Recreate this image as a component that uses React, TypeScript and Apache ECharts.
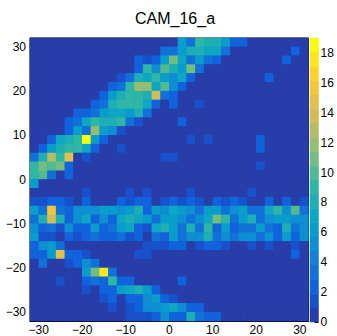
import React, { useEffect, useRef } from 'react';
import * as echarts from 'echarts';

const TITLE = 'CAM_16_a';

// bin centres (bins of width 2 from -32 to 32)
const X_BINS = [-31, -29, -27, -25, -23, -21, -19, -17, -15, -13, -11, -9, -7, -5, -3, -1, 1, 3, 5, 7, 9, 11, 13, 15, 17, 19, 21, 23, 25, 27, 29, 31];
const Y_BINS = [-31, -29, -27, -25, -23, -21, -19, -17, -15, -13, -11, -9, -7, -5, -3, -1, 1, 3, 5, 7, 9, 11, 13, 15, 17, 19, 21, 23, 25, 27, 29, 31];

const X_TICKS = [-30, -20, -10, 0, 10, 20, 30];
const Y_TICKS = [-30, -20, -10, 0, 10, 20, 30];
const Z_TICKS = [0, 2, 4, 6, 8, 10, 12, 14, 16, 18];
const Z_MAX = 19;
const N_CONTOURS = 20;

// counts, rows listed from top (y = 31) to bottom (y = -31)
const COUNTS: number[][] = [
  [0, 0, 0, 0, 0, 0, 0, 0, 0, 0, 0, 0, 0, 0, 0, 0, 0, 6, 3, 9, 8, 8, 6, 2, 2, 0, 0, 0, 0, 0, 0, 0],
  [0, 0, 0, 0, 0, 0, 0, 0, 0, 0, 0, 0, 0, 0, 0, 3, 3, 6, 8, 8, 7, 7, 3, 0, 0, 0, 0, 0, 0, 0, 2, 0],
  [0, 0, 0, 0, 0, 0, 0, 0, 0, 0, 0, 0, 2, 1, 2, 6, 11, 7, 3, 6, 3, 2, 0, 0, 0, 0, 0, 0, 0, 2, 0, 0],
  [0, 0, 0, 0, 0, 0, 0, 0, 0, 0, 0, 0, 2, 9, 5, 10, 8, 6, 11, 3, 0, 0, 0, 0, 0, 0, 0, 0, 0, 0, 0, 0],
  [0, 0, 0, 0, 0, 0, 0, 0, 0, 0, 1, 3, 8, 7, 9, 6, 5, 7, 2, 0, 0, 0, 0, 0, 0, 0, 0, 2, 0, 0, 0, 0],
  [0, 0, 0, 0, 0, 0, 0, 0, 0, 2, 3, 9, 12, 12, 7, 10, 5, 2, 0, 0, 0, 0, 0, 0, 0, 0, 0, 0, 0, 0, 0, 0],
  [0, 0, 0, 0, 0, 0, 0, 0, 2, 6, 8, 9, 9, 8, 14, 3, 2, 0, 0, 0, 0, 0, 0, 0, 0, 0, 0, 0, 0, 0, 0, 0],
  [0, 0, 0, 0, 0, 0, 0, 2, 3, 8, 9, 9, 9, 7, 2, 0, 2, 0, 0, 1, 0, 0, 0, 0, 0, 0, 0, 0, 0, 0, 0, 0],
  [0, 0, 0, 0, 0, 2, 2, 3, 6, 7, 7, 6, 8, 3, 0, 0, 0, 0, 0, 0, 0, 0, 0, 0, 0, 0, 0, 0, 0, 0, 0, 0],
  [0, 0, 0, 0, 2, 3, 7, 9, 8, 8, 9, 3, 1, 0, 0, 0, 0, 2, 0, 0, 0, 0, 0, 0, 0, 0, 0, 0, 0, 0, 0, 0],
  [0, 0, 0, 0, 2, 6, 3, 12, 6, 5, 1, 0, 0, 0, 0, 0, 0, 0, 0, 0, 0, 0, 0, 0, 0, 0, 0, 0, 0, 0, 0, 0],
  [0, 0, 2, 7, 8, 9, 19, 6, 2, 0, 0, 0, 0, 0, 0, 0, 0, 0, 1, 0, 1, 0, 0, 0, 0, 0, 2, 0, 0, 0, 0, 0],
  [0, 2, 6, 8, 9, 9, 7, 2, 0, 0, 1, 0, 0, 0, 0, 0, 0, 0, 0, 0, 0, 0, 0, 0, 0, 0, 2, 0, 0, 0, 0, 0],
  [3, 8, 13, 9, 15, 0, 1, 0, 0, 0, 0, 0, 0, 0, 0, 1, 1, 0, 0, 0, 0, 0, 0, 0, 0, 0, 0, 0, 0, 0, 0, 0],
  [9, 11, 10, 11, 2, 0, 0, 0, 0, 0, 0, 0, 0, 0, 0, 0, 0, 0, 0, 0, 0, 0, 0, 0, 0, 0, 1, 0, 0, 0, 0, 0],
  [9, 10, 3, 0, 2, 0, 0, 0, 0, 0, 0, 0, 0, 0, 0, 0, 0, 0, 0, 0, 0, 0, 0, 0, 0, 0, 0, 0, 0, 0, 0, 0],
  [6, 0, 0, 0, 0, 0, 0, 0, 0, 0, 0, 0, 0, 0, 0, 0, 0, 0, 0, 0, 0, 0, 0, 0, 0, 0, 0, 0, 0, 0, 0, 0],
  [0, 0, 0, 0, 0, 0, 1, 0, 0, 0, 0, 1, 0, 1, 0, 0, 0, 0, 1, 0, 0, 0, 0, 0, 0, 1, 0, 0, 0, 0, 0, 0],
  [1, 1, 2, 2, 1, 0, 2, 0, 0, 0, 2, 1, 2, 2, 0, 1, 2, 1, 2, 1, 0, 2, 1, 2, 1, 0, 0, 2, 0, 2, 0, 1],
  [6, 3, 16, 3, 2, 5, 5, 5, 6, 6, 5, 6, 8, 2, 6, 5, 7, 6, 5, 3, 6, 6, 3, 5, 6, 3, 3, 7, 9, 5, 10, 3],
  [3, 8, 14, 8, 2, 5, 7, 2, 5, 2, 7, 8, 7, 6, 3, 6, 6, 5, 3, 5, 7, 11, 9, 3, 6, 8, 3, 5, 6, 6, 5, 5],
  [5, 2, 3, 1, 5, 2, 2, 6, 2, 3, 6, 7, 2, 1, 7, 8, 6, 3, 8, 3, 9, 2, 6, 2, 3, 3, 6, 3, 2, 8, 3, 5],
  [6, 1, 1, 0, 2, 1, 2, 3, 2, 2, 3, 1, 2, 0, 3, 2, 6, 3, 5, 5, 8, 3, 5, 3, 5, 5, 3, 5, 2, 6, 2, 5],
  [2, 5, 6, 3, 0, 0, 0, 0, 0, 0, 0, 0, 0, 1, 1, 1, 2, 2, 0, 1, 2, 2, 1, 0, 0, 1, 0, 1, 0, 0, 1, 0],
  [2, 2, 6, 15, 2, 2, 1, 0, 0, 0, 0, 0, 1, 1, 0, 0, 0, 0, 0, 0, 0, 0, 0, 0, 0, 0, 0, 0, 0, 0, 2, 0],
  [0, 3, 0, 0, 1, 2, 5, 3, 0, 0, 0, 0, 0, 0, 0, 0, 0, 0, 0, 0, 0, 0, 0, 0, 0, 0, 0, 0, 0, 0, 0, 0],
  [0, 0, 0, 0, 0, 0, 6, 11, 18, 3, 0, 0, 0, 0, 0, 0, 0, 0, 0, 0, 0, 0, 0, 0, 0, 0, 0, 0, 0, 0, 0, 0],
  [0, 0, 0, 1, 0, 0, 2, 3, 2, 9, 2, 2, 0, 0, 0, 0, 0, 2, 0, 0, 0, 0, 0, 0, 0, 0, 0, 0, 0, 0, 0, 0],
  [0, 0, 0, 0, 0, 0, 1, 0, 2, 2, 6, 7, 8, 6, 2, 0, 0, 0, 0, 0, 0, 0, 0, 0, 0, 0, 0, 0, 0, 0, 0, 0],
  [0, 0, 0, 0, 0, 0, 0, 0, 1, 2, 0, 2, 2, 5, 6, 2, 1, 0, 0, 0, 0, 0, 0, 0, 0, 0, 0, 0, 0, 0, 0, 0],
  [0, 0, 0, 0, 0, 0, 0, 0, 0, 1, 0, 1, 2, 5, 5, 6, 7, 5, 2, 2, 0, 0, 0, 0, 0, 0, 0, 0, 0, 0, 0, 0],
  [0, 0, 0, 0, 0, 0, 0, 0, 0, 0, 0, 1, 1, 1, 2, 5, 2, 2, 8, 3, 2, 2, 0, 0, 0, 0, 0, 0, 0, 0, 0, 0],
];

// kBird palette stops (ROOT)
const BIRD_STOPS: number[][] = [
  [0.0, 53, 42, 135],
  [0.125, 15, 92, 221],
  [0.25, 20, 129, 214],
  [0.375, 6, 164, 202],
  [0.5, 46, 183, 164],
  [0.625, 135, 191, 119],
  [0.75, 209, 187, 89],
  [0.875, 254, 200, 50],
  [1.0, 249, 251, 14],
];

function birdColor(f: number): string {
  for (let i = 1; i < BIRD_STOPS.length; i++) {
    const a = BIRD_STOPS[i - 1];
    const b = BIRD_STOPS[i];
    if (f <= b[0] || i === BIRD_STOPS.length - 1) {
      const t = Math.max(0, Math.min(1, (f - a[0]) / (b[0] - a[0])));
      const r = Math.round(a[1] + (b[1] - a[1]) * t);
      const g = Math.round(a[2] + (b[2] - a[2]) * t);
      const bl = Math.round(a[3] + (b[3] - a[3]) * t);
      return `rgb(${r},${g},${bl})`;
    }
  }
  return '#000';
}

function bandColor(k: number): string {
  const idx = Math.floor((k + 0.99) * 255 / N_CONTOURS);
  return birdColor(Math.min(1, idx / 254));
}

const FONT = 'Liberation Sans, Arial, Helvetica, sans-serif';
const minus = (v: number | string) => String(v).replace('-', '\u2212');

export default function App() {
  const ref = useRef<HTMLDivElement>(null);
  useEffect(() => {
    if (!ref.current) return;
    const chart = echarts.init(ref.current, undefined, { renderer: 'svg' });
    const bandW = Z_MAX / N_CONTOURS;
    const pieces = Array.from({ length: N_CONTOURS }, (_, k) =>
      k === N_CONTOURS - 1
        ? { gte: k * bandW, color: bandColor(k) }
        : { gte: k * bandW, lt: (k + 1) * bandW, color: bandColor(k) }
    );
    const data: number[][] = [];
    COUNTS.forEach((row, r) => {
      const yi = Y_BINS.length - 1 - r;
      row.forEach((v, xi) => data.push([xi, yi, v]));
    });
    const bands = Array.from({ length: N_CONTOURS }, (_, k) => String(k));
    const barData = bands.map((_, k) => [0, k, (k + 0.5) * bandW]);

    const labelStyle = { color: '#000', fontFamily: FONT, fontSize: 12 };

    chart.setOption({
      animation: false,
      backgroundColor: '#fff',
      title: {
        text: TITLE,
        left: 130,
        top: 5,
        textStyle: { color: '#000', fontFamily: FONT, fontSize: 16, fontWeight: 'normal' },
      },
      grid: [
        { left: 30, top: 38, width: 278.5, height: 284, show: true, borderColor: '#000', borderWidth: 1, backgroundColor: bandColor(0), containLabel: false },
        { left: 310, top: 38, width: 8.5, height: 284, show: false, containLabel: false },
      ],
      visualMap: {
        type: 'piecewise',
        show: false,
        seriesIndex: [0, 1],
        dimension: 2,
        pieces,
      },
      xAxis: [
        {
          type: 'category', gridIndex: 0, data: X_BINS, position: 'bottom',
          axisLine: { show: true, onZero: false, lineStyle: { color: '#000', width: 1 } },
          axisTick: { show: true, inside: true, length: 4, interval: 0, lineStyle: { color: '#000' } },
          axisLabel: { show: false }, splitLine: { show: false },
        },
        {
          type: 'value', gridIndex: 0, min: -32, max: 32, position: 'bottom',
          axisLine: { show: false, onZero: false },
          axisTick: { show: true, inside: true, length: 8, customValues: X_TICKS, lineStyle: { color: '#000' } },
          axisLabel: { show: true, customValues: X_TICKS, margin: 3, formatter: (v: number) => minus(v), ...labelStyle },
          splitLine: { show: false },
        },
        { type: 'category', gridIndex: 1, data: ['z'], show: false },
      ],
      yAxis: [
        {
          type: 'category', gridIndex: 0, data: Y_BINS, position: 'left',
          axisLine: { show: true, onZero: false, lineStyle: { color: '#000', width: 1 } },
          axisTick: { show: true, inside: true, length: 4, interval: 0, lineStyle: { color: '#000' } },
          axisLabel: { show: false }, splitLine: { show: false },
        },
        {
          type: 'value', gridIndex: 0, min: -32, max: 32, position: 'left',
          axisLine: { show: false, onZero: false },
          axisTick: { show: true, inside: true, length: 8, customValues: Y_TICKS, lineStyle: { color: '#000' } },
          axisLabel: { show: true, customValues: Y_TICKS, margin: 4, formatter: (v: number) => minus(v), ...labelStyle },
          splitLine: { show: false },
        },
        { type: 'category', gridIndex: 1, data: bands, show: false },
        {
          type: 'value', gridIndex: 1, min: 0, max: Z_MAX, position: 'right',
          axisLine: { show: false, onZero: false },
          axisTick: { show: true, inside: true, length: 4, customValues: Z_TICKS, lineStyle: { color: '#000' } },
          axisLabel: { show: true, customValues: Z_TICKS, margin: 2, ...labelStyle },
          splitLine: { show: false },
        },
      ],
      series: [
        {
          type: 'heatmap', xAxisIndex: 0, yAxisIndex: 0, data,
          itemStyle: { borderWidth: 0 },
          emphasis: { disabled: true },
        },
        {
          type: 'heatmap', xAxisIndex: 2, yAxisIndex: 2, data: barData,
          itemStyle: { borderWidth: 0 },
          emphasis: { disabled: true },
        },
      ],
    });
    return () => chart.dispose();
  }, []);
  return <div ref={ref} style={{ position: 'fixed', left: 0, top: 0, width: 337, height: 336 }} />;
}
